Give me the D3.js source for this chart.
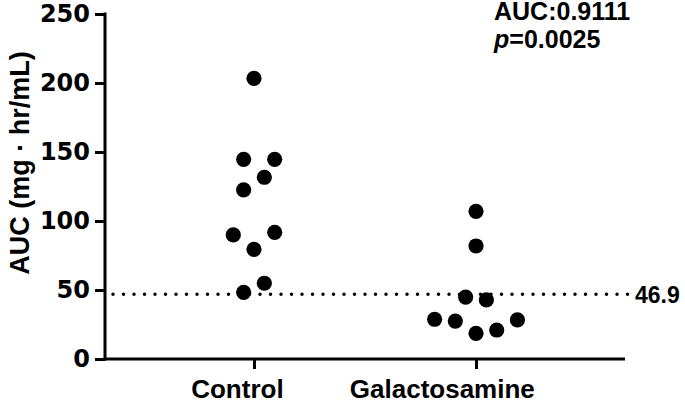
<!DOCTYPE html>
<html>
<head>
<meta charset="utf-8">
<script src="https://cdn.jsdelivr.net/npm/d3@7"></script>
<style>
  html, body { margin: 0; padding: 0; background: #fff; }
  svg { display: block; }
</style>
</head>
<body>
<svg id="chart" width="685" height="400"></svg>
<script>
// ---- data ----
const categories = ["Control", "Galactosamine"];
const controlValues = [203.4, 144.7, 144.7, 131.7, 122.5, 89.9, 91.8, 79.5, 54.9, 48.3];
const controlSlots  = [0, -1, 2, 1, -1, -2, 2, 0, 1, -1];
const galactoValues = [107.0, 81.9, 44.9, 42.8, 28.8, 27.5, 18.6, 21.0, 28.3];
const galactoSlots  = [0, 0, -1, 1, -4, -2, 0, 2, 4];
const yTicks = [0, 50, 100, 150, 200, 250];
const cutoff = 46.9;
const aucText = "AUC:0.9111";
const pValue = "0.0025";
const yLabel = "AUC (mg \u00B7 hr/mL)";

// ---- layout ----
const svg = d3.select("#chart");
const axisX = 105, axisY = 359, xEnd = 625, yTop = 14;
const slotPx = 10.35;

const y = d3.scaleLinear().domain([0, 250]).range([axisY, yTop]);
const x = d3.scalePoint().domain(categories).range([axisX, xEnd]).padding(0.671);

const boldNum = "'DejaVu Sans', Verdana, sans-serif";
const boldTxt = "'Liberation Sans', Arial, Helvetica, sans-serif";

// Y axis
const yAxis = svg.append("g")
  .attr("transform", `translate(${axisX},0)`)
  .call(d3.axisLeft(y).tickValues(yTicks).tickSize(10).tickPadding(5).tickSizeOuter(0));
yAxis.select(".domain").attr("stroke", "#000").attr("stroke-width", 3)
  .attr("d", `M0,${axisY + 1.5}V${yTop - 1.5}`);
yAxis.selectAll(".tick line").attr("stroke", "#000").attr("stroke-width", 3);
yAxis.selectAll(".tick text")
  .attr("fill", "#000")
  .style("font-family", boldNum)
  .style("font-weight", "bold")
  .style("font-size", "24px");

// X axis
const xAxis = svg.append("g")
  .attr("transform", `translate(0,${axisY})`)
  .call(d3.axisBottom(x).tickSize(10).tickPadding(10).tickSizeOuter(0));
xAxis.select(".domain").attr("stroke", "#000").attr("stroke-width", 3)
  .attr("d", `M${axisX - 1.5},0H${xEnd}`);
xAxis.selectAll(".tick line").attr("stroke", "#000").attr("stroke-width", 3);
xAxis.selectAll(".tick text")
  .attr("fill", "#000")
  .attr("dy", null)
  .attr("y", 39)
  .style("font-family", boldTxt)
  .style("font-weight", "bold")
  .style("font-size", "26px")
  .attr("dx", function() { return -0.185 * this.getComputedTextLength(); });

// Y label
svg.append("text")
  .attr("transform", `translate(29,163) rotate(-90)`)
  .attr("text-anchor", "middle")
  .style("font-family", boldTxt)
  .style("font-weight", "bold")
  .style("font-size", "27px")
  .text(yLabel);

// cutoff dotted line
svg.append("line")
  .attr("x1", axisX + 8).attr("x2", 630)
  .attr("y1", y(cutoff)).attr("y2", y(cutoff))
  .attr("stroke", "#000")
  .attr("stroke-width", 3.5)
  .attr("stroke-linecap", "round")
  .attr("stroke-dasharray", "0,10.5");
svg.append("text")
  .attr("x", 635).attr("y", y(cutoff) + 9)
  .style("font-family", boldTxt)
  .style("font-weight", "bold")
  .style("font-size", "23px")
  .text(cutoff.toFixed(1));

// points
const groups = [
  { cat: categories[0], values: controlValues, slots: controlSlots },
  { cat: categories[1], values: galactoValues, slots: galactoSlots }
];
groups.forEach(g => {
  svg.append("g").selectAll("circle")
    .data(g.values.map((v, i) => ({ v, s: g.slots[i] })))
    .join("circle")
    .attr("cx", d => x(g.cat) + d.s * slotPx)
    .attr("cy", d => y(d.v))
    .attr("r", 7.6)
    .attr("fill", "#000");
});

// annotation
svg.append("text")
  .attr("x", 494).attr("y", 19.5)
  .style("font-family", boldTxt)
  .style("font-weight", "bold")
  .style("font-size", "25px")
  .text(aucText);
const pt = svg.append("text")
  .attr("x", 494).attr("y", 47.5)
  .style("font-family", boldTxt)
  .style("font-weight", "bold")
  .style("font-size", "25px");
pt.append("tspan").style("font-style", "italic").text("p");
pt.append("tspan").text("=" + pValue);
</script>
</body>
</html>
